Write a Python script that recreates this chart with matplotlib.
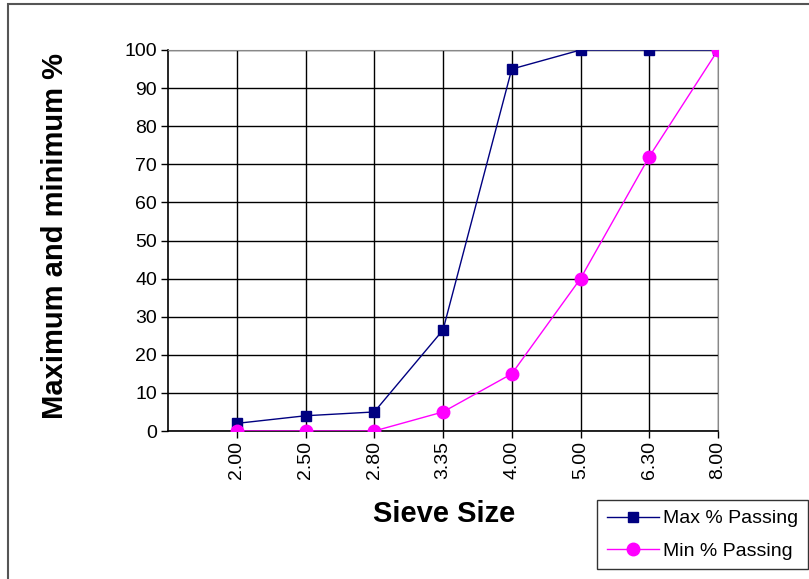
import numpy as np
import matplotlib.pyplot as plt
from matplotlib.patches import Rectangle

plt.rcParams['font.family'] = ['Liberation Sans', 'DejaVu Sans']

# sieve sizes (category labels) and grading limits
sieve_size = ['2.00', '2.50', '2.80', '3.35', '4.00', '5.00', '6.30', '8.00']
max_passing = [2, 4, 5, 26.5, 95, 100, 100, 100]
min_passing = [0, 0, 0, 5, 15, 40, 72, 100]

x = np.arange(1, len(sieve_size) + 1)

fig = plt.figure(figsize=(8.09, 5.79), dpi=100)
ax = fig.add_axes([168 / 809, 1 - 431 / 579, (718 - 168) / 809, (431 - 50) / 579])

# outer chart frame, runs off the right and bottom of the picture
fig.patches.append(Rectangle((8 / 809, -0.1), 1.2, 1 - 4 / 579 + 0.1,
                             transform=fig.transFigure, fill=False,
                             edgecolor='#555555', linewidth=1.5))

ax.plot(x, max_passing, color='#000080', marker='s', markersize=7.5,
        linewidth=1, label='Max % Passing', zorder=3)
ax.plot(x, min_passing, color='#ff00ff', marker='o', markersize=9,
        linewidth=1, label='Min % Passing', zorder=3)

ax.set_xlim(0, len(sieve_size))
ax.set_ylim(0, 100)
ax.set_yticks(range(0, 101, 10))
ax.set_xticks(x)
ax.set_xticklabels(sieve_size, rotation=90)
ax.tick_params(axis='y', labelsize=14, length=5, width=1, pad=3)
ax.tick_params(axis='x', labelsize=14, length=5, width=1, pad=2)

ax.grid(True, color='black', linewidth=1)
ax.set_axisbelow(True)
for s in ['top', 'right']:
    ax.spines[s].set_color('#888888')
ax.spines['left'].set_linewidth(1.2)
ax.spines['bottom'].set_linewidth(1.2)

fig.text(444 / 809, 1 - 514 / 579, 'Sieve Size', fontsize=21, fontweight='bold',
         ha='center', va='center')
fig.text(55 / 809, 1 - 236 / 579, 'Maximum and minimum %', fontsize=21,
         fontweight='bold', rotation=90, ha='center', va='center')

leg = fig.legend(loc='upper left', bbox_to_anchor=(597 / 809, 1 - 500 / 579),
                 frameon=True, fancybox=False, fontsize=14, handlelength=2.7,
                 borderpad=0.5, labelspacing=0.75, handletextpad=0.2,
                 borderaxespad=0)
leg.get_frame().set_edgecolor('black')
leg.get_frame().set_linewidth(1)

fig.savefig('out.png', dpi=100)
